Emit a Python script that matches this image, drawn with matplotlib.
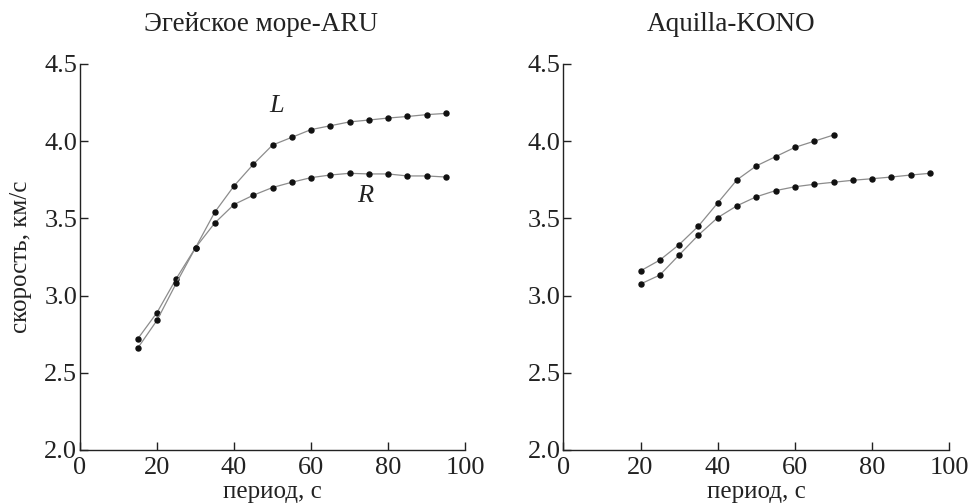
import matplotlib
matplotlib.use("Agg")
import matplotlib.pyplot as plt

plt.rcParams['font.family'] = ['Liberation Serif', 'DejaVu Serif']

# Эгейское море-ARU
aru_period = [15, 20, 25, 30, 35, 40, 45, 50, 55, 60, 65, 70, 75, 80, 85, 90, 95]
aru_L = [2.72, 2.89, 3.11, 3.31, 3.54, 3.71, 3.85, 3.975, 4.025, 4.075, 4.10, 4.125, 4.137, 4.15, 4.16, 4.172, 4.18]
aru_R = [2.66, 2.84, 3.08, 3.31, 3.47, 3.59, 3.65, 3.70, 3.734, 3.764, 3.781, 3.792, 3.788, 3.788, 3.775, 3.775, 3.768]

# Aquilla-KONO
kono_period_L = [20, 25, 30, 35, 40, 45, 50, 55, 60, 65, 70]
kono_L = [3.16, 3.23, 3.33, 3.45, 3.60, 3.75, 3.84, 3.90, 3.96, 4.00, 4.04]
kono_period_R = [20, 25, 30, 35, 40, 45, 50, 55, 60, 65, 70, 75, 80, 85, 90, 95]
kono_R = [3.075, 3.133, 3.263, 3.392, 3.505, 3.582, 3.64, 3.68, 3.705, 3.721, 3.734, 3.747, 3.757, 3.768, 3.781, 3.792]

titles = ["Эгейское море-ARU", "Aquilla-KONO"]
xticks = [0, 20, 40, 60, 80, 100]
yticks = [2.0, 2.5, 3.0, 3.5, 4.0, 4.5]

FS_TICK = 19
FS_LABEL = 18
FS_TITLE = 19.5
INK = '#222222'
W, H = 968, 504

fig = plt.figure(figsize=(W / 100, H / 100), dpi=100)
ax1 = fig.add_axes([80 / W, 54 / H, 385 / W, 386 / H])
ax2 = fig.add_axes([563.3 / W, 54 / H, 386 / W, 386 / H])

line_kw = dict(color='#8c8c8c', lw=0.9, marker='o', ms=3.6,
               mfc='#111111', mec='#111111', zorder=3)

ax1.plot(aru_period, aru_L, **line_kw)
ax1.plot(aru_period, aru_R, **line_kw)
ax2.plot(kono_period_L, kono_L, **line_kw)
ax2.plot(kono_period_R, kono_R, **line_kw)

ax1.text(51.2, 4.23, "L", fontsize=FS_TICK, style='italic', ha='center', va='center', color=INK)
ax1.text(74, 3.645, "R", fontsize=FS_TICK, style='italic', ha='center', va='center', color=INK)

title_x = [261, 731]
for ax, title, tx in zip((ax1, ax2), titles, title_x):
    ax.set_xlim(0, 100)
    ax.set_ylim(2.0, 4.5)
    ax.set_xticks(xticks)
    ax.set_yticks(yticks)
    ax.set_yticklabels([f"{v:.1f}" for v in yticks])
    ax.spines['top'].set_visible(False)
    ax.spines['right'].set_visible(False)
    for s in ('left', 'bottom'):
        ax.spines[s].set_linewidth(1.0)
        ax.spines[s].set_color(INK)
    ax.tick_params(direction='in', length=6, width=1.0, labelsize=FS_TICK,
                   colors=INK)
    ax.tick_params(axis='x', pad=5)
    ax.tick_params(axis='y', pad=2)
    bb = ax.get_position()
    fig.text((bb.x0 + bb.x1) / 2, 6 / H, "период, с", fontsize=FS_LABEL,
             ha='center', va='baseline', color=INK)
    fig.text(tx / W, (H - 31) / H, title, fontsize=FS_TITLE, ha='center',
             va='baseline', color=INK)

ax1.set_ylabel("скорость, км/с", fontsize=FS_LABEL, color=INK)
ax1.yaxis.set_label_coords((32 - 80) / 385, 0.5)

fig.savefig("out.png", dpi=100, facecolor='white')
